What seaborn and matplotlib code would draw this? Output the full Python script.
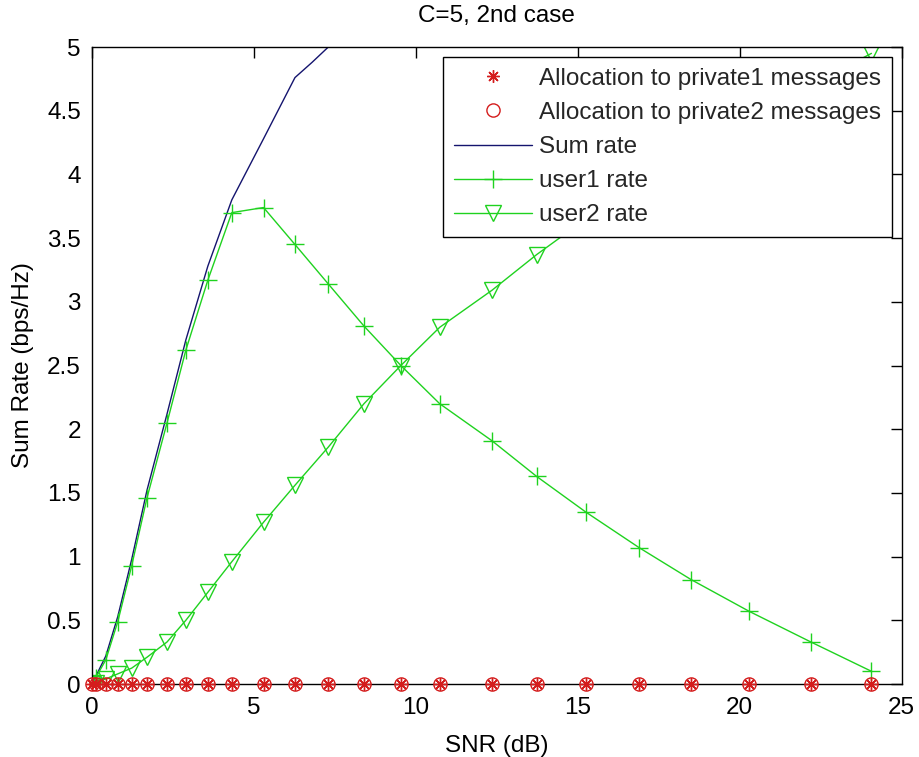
import matplotlib
matplotlib.use("Agg")
import matplotlib.pyplot as plt
from matplotlib.ticker import FormatStrFormatter
import seaborn as sns
import pandas as pd

# SNR grid (dB) shared by the per-user curves
snr = [0, 0.12, 0.43, 0.8, 1.23, 1.7, 2.32, 2.9, 3.58, 4.32, 5.3, 6.27, 7.3,
       8.4, 9.54, 10.74, 12.35, 13.73, 15.25, 16.9, 18.5, 20.3, 22.2, 24.07]
private1 = [0.0] * len(snr)
private2 = [0.0] * len(snr)
user1 = [0, 0.05, 0.19, 0.49, 0.93, 1.46, 2.05, 2.62, 3.17, 3.70, 3.74, 3.45, 3.14,
         2.81, 2.50, 2.20, 1.91, 1.63, 1.35, 1.07, 0.82, 0.57, 0.33, 0.10]
user2 = [0, 0.01, 0.04, 0.08, 0.125, 0.21, 0.33, 0.50, 0.72, 0.96, 1.27, 1.56, 1.86,
         2.20, 2.50, 2.80, 3.09, 3.37, 3.65, 3.92, 4.18, 4.44, 4.70, 4.95]

sum_snr = [0, 0.12, 0.43, 0.8, 1.23, 1.7, 2.32, 2.9, 3.58, 4.32, 5.3, 6.27, 6.8, 7.3]
sum_rate = [0, 0.06, 0.22, 0.53, 0.98, 1.52, 2.12, 2.70, 3.28, 3.80, 4.28, 4.76, 4.88, 5.0]

x_ticks = [0, 5, 10, 15, 20, 25]
y_ticks = [0, 0.5, 1, 1.5, 2, 2.5, 3, 3.5, 4, 4.5, 5]

df = pd.DataFrame({"snr": snr, "p1": private1, "p2": private2,
                   "u1": user1, "u2": user2})
df_sum = pd.DataFrame({"snr": sum_snr, "rate": sum_rate})

sns.set_theme(style="white")
plt.rcParams["font.family"] = ["Liberation Sans", "DejaVu Sans"]
FS = 17.5

RED = "#d41c1c"
GREEN = "#1fd21f"
NAVY = "#14146e"

fig = plt.figure(figsize=(9.19, 7.57), dpi=100, facecolor="white")
ax = fig.add_axes([0.100, 0.0964, 0.881, 0.8415])

sns.lineplot(data=df, x="snr", y="p1", ax=ax, linestyle="none", marker=(8, 2, 0),
             markersize=9, color=RED, markeredgecolor=RED, markeredgewidth=1.0,
             label="Allocation to private1 messages", clip_on=False, zorder=3)
sns.lineplot(data=df, x="snr", y="p2", ax=ax, linestyle="none", marker="o",
             markersize=9.5, color=RED, markeredgecolor=RED, markerfacecolor="none",
             markeredgewidth=1.0, label="Allocation to private2 messages",
             clip_on=False, zorder=3)
sns.lineplot(data=df_sum, x="snr", y="rate", ax=ax, color=NAVY, linewidth=1.0,
             label="Sum rate", zorder=2)
sns.lineplot(data=df, x="snr", y="u1", ax=ax, color=GREEN, linewidth=1.0,
             marker="+", markersize=13, markeredgecolor=GREEN, markeredgewidth=1.0,
             label="user1 rate", zorder=2)
sns.lineplot(data=df, x="snr", y="u2", ax=ax, color=GREEN, linewidth=1.0,
             marker="v", markersize=11, markeredgecolor=GREEN, markerfacecolor="none",
             markeredgewidth=1.0, label="user2 rate", zorder=2)

ax.set_xlim(0, 25)
ax.set_ylim(0, 5)
ax.set_xticks(x_ticks)
ax.set_yticks(y_ticks)
ax.xaxis.set_major_formatter(FormatStrFormatter("%g"))
ax.yaxis.set_major_formatter(FormatStrFormatter("%g"))
ax.tick_params(direction="in", top=True, right=True, length=8, width=1,
               colors="black", labelsize=FS, pad=8)
ax.tick_params(axis="x", pad=9)
for sp in ax.spines.values():
    sp.set_color("black")
    sp.set_linewidth(1.0)

ax.set_xlabel("SNR (dB)", fontsize=FS, color="black", labelpad=12)
ax.set_ylabel("Sum Rate (bps/Hz)", fontsize=FS, color="black", labelpad=9)
ax.set_title("C=5, 2nd case", fontsize=FS, color="black", pad=18)

leg = ax.legend(loc="upper right", fontsize=FS, frameon=True, fancybox=False,
                edgecolor="black", framealpha=1.0, handlelength=3.2,
                handletextpad=0.3, labelspacing=0.5, borderaxespad=0.4,
                borderpad=0.45, numpoints=1)
leg.get_frame().set_linewidth(1.0)
leg.set_zorder(5)

fig.savefig("out.png", dpi=100, facecolor="white")
